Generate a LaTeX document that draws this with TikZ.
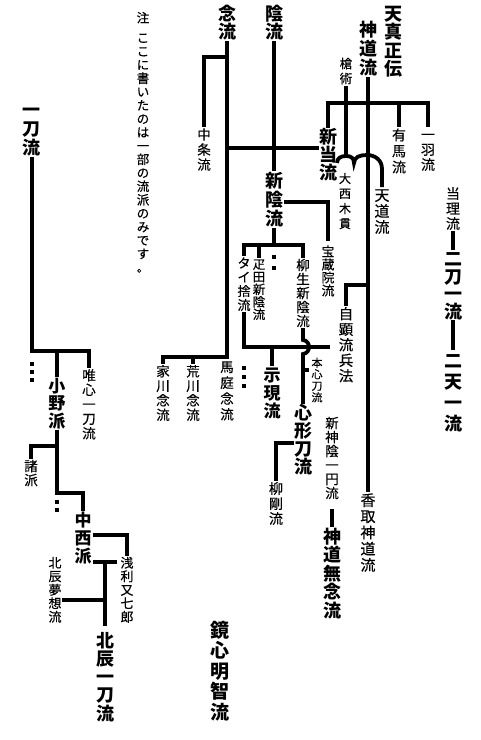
\documentclass[tikz,border=0pt]{standalone}
\usepackage{fontspec}
\newfontfamily\jp{Noto Sans CJK JP}
\newfontfamily\jpm[FakeBold=0.4]{Noto Sans CJK JP}
\makeatletter
\newcommand\vt[2]{%
  \vbox{\offinterlineskip
    \@tfor\vt@c:=#2\do{%
      \hbox to 1em{\hss\vrule height \dimexpr 0.38em+#1/2\relax depth \dimexpr #1/2-0.38em\relax width 0pt\relax\vt@c\hss}}}}
\makeatother
\tikzset{
  vcol/.style={inner sep=0pt, outer sep=0pt, anchor=north},
  vs/.style={vcol, font=\jpm\fontsize{#1}{#1}\selectfont},
  vb/.style={vcol, font=\jp\bfseries\fontsize{#1}{#1}\selectfont},
  ln/.style={line width=3.8pt, line join=miter, line cap=butt},
}
\begin{document}
\begin{tikzpicture}[x=1pt,y=-1pt]
\useasboundingbox (0,0) rectangle (480,740);
\fill[white] (0,0) rectangle (480,740);
% nodes
\node[vb=18] (nen) at (227,4) {\vt{18.5pt}{念流}};
\node[vb=18] (kage) at (274,4) {\vt{18.5pt}{陰流}};
\node[vb=18] (tenshin) at (393,4) {\vt{18.5pt}{天真正伝}};
\node[vb=18] (shinto) at (368,20) {\vt{19pt}{神道流}};
\node[vs=12.5] (sojutsu) at (346,56) {\vt{15pt}{槍術}};
\node[vb=18] (shintoryu) at (328,128) {\vt{18pt}{新当流}};
\node[vs=14] (arima) at (399,127) {\vt{16pt}{有馬流}};
\node[vs=14] (ichiu) at (428,127) {\vt{15pt}{一羽流}};
\node[vs=13.5] (chujo) at (204,127) {\vt{15pt}{中条流}};
\node[vs=12] (onishi) at (345,171) {\vt{15pt}{大西木貫}};
\node[vs=15] (tendo) at (382,187) {\vt{16pt}{天道流}};
\node[vs=14] (tori) at (453,186) {\vt{15pt}{当理流}};
\node[vb=18] (nito) at (453,250) {\vt{17.5pt}{二刀一流}};
\node[vb=18] (niten) at (453,350) {\vt{21pt}{二天一流}};
\node[vb=18] (shinkage) at (274,171) {\vt{19pt}{新陰流}};
\node[vs=13] (hozoin) at (328,245) {\vt{13pt}{宝蔵院流}};
\node[vs=13] (taisha) at (244,256) {\vt{14pt}{タイ捨流}};
\node[vs=12.5] (hikita) at (259,258) {\vt{12.5pt}{疋田新陰流}};
\node[vs=13.5] (yagyu) at (303,258) {\vt{14pt}{柳生新陰流}};
\node[vs=14.5] (jiken) at (346,306) {\vt{15.5pt}{自顕流兵法}};
\node[vs=13.5] (iekawa) at (163,364) {\vt{14.5pt}{家川念流}};
\node[vs=13.5] (arakawa) at (193,364) {\vt{14.5pt}{荒川念流}};
\node[vs=13.5] (maniwa) at (227,359) {\vt{15.8pt}{馬庭念流}};
\node[vb=17] (jigen) at (272,366) {\vt{18pt}{示現流}};
\node[vs=11] (honshin) at (317,357) {\vt{11.5pt}{本心刀流}};
\node[vb=18] (shinkei) at (303,404) {\vt{18pt}{心形刀流}};
\node[vs=14] (ryugo) at (276,481) {\vt{15pt}{柳剛流}};
\node[vs=13.5] (shinshin) at (332,416) {\vt{14pt}{新神陰一円流}};
\node[vb=18] (munen) at (332,527) {\vt{18.6pt}{神道無念流}};
\node[vs=15] (katori) at (368,492) {\vt{16.2pt}{香取神道流}};
\node[vb=18] (itto) at (32,100) {\vt{19pt}{一刀流}};
\node[vb=17] (ono) at (57,377) {\vt{17.5pt}{小野派}};
\node[vs=13.5] (yuishin) at (89,368) {\vt{14.5pt}{唯心一刀流}};
\node[vs=13.5] (shoha) at (31,459) {\vt{14pt}{諸派}};
\node[vb=17] (nakanishi) at (83,511) {\vt{18pt}{中西派}};
\node[vs=13] (asari) at (127,556) {\vt{13.5pt}{浅利又七郎}};
\node[vs=13] (muso) at (55,556) {\vt{13.5pt}{北辰夢想流}};
\node[vb=18] (hokushin) at (105,631) {\vt{18.3pt}{北辰一刀流}};
\node[vb=19] (kyoshin) at (220,620) {\vt{20.5pt}{鏡心明智流}};
\node[vs=12.5] (note1) at (143,11) {\vt{13.5pt}{注}};
\node[vs=12.5] (note2) at (143,31) {\vt{13.5pt}{ここに書いたのは一部の流派のみです。}};
% connectors
\draw[ln] (nen.south) -- (227,357) -- (163,357) -- (iekawa.north);
\draw[ln] (193,357) -- (arakawa.north);
\draw[ln] (227,57) -| (chujo.north);
\draw[ln] (227,148) -- (319,148);
\draw[ln] (kage.south) -- (shinkage.north);
\draw[ln] (shinkage.south) -- (274,245);
\draw[ln] (taisha.north) -- (244,245) -- (303,245) -- (yagyu.north);
\draw[ln] (259,245) -- (hikita.north);
\draw[ln] (284,202) -| (328,241);
\draw[ln] (shinto.south) -- (katori.north);
\draw[ln] (shintoryu.north) -- (328,103) -- (428,103) -- (ichiu.north);
\draw[ln] (399,103) -- (arima.north);
\draw[ln] (sojutsu.south) -- (346,156);
\draw[ln] (337,163) .. controls (337,158) and (341,156) .. (346,156) .. controls (351,156) and (354,158) .. (354,163) .. controls (354,157) and (360,155) .. (367,155) .. controls (375,155) and (382,160) .. (382,169) -- (tendo.north);
\draw[ln] (368,285) -| (jiken.north);
\draw[ln] (taisha.south) -- (244,347) -- (330,347);
\draw[ln] (272,347) -- (jigen.north);
\draw[ln] (yagyu.south) -- (303,340) .. controls (311,341) and (311,353) .. (303,354) -- (shinkei.north);
\draw[ln] (303,370) -- (309,370);
\draw[ln] (294,443) -| (ryugo.north);
\draw[ln, shorten <=9pt] (shinshin.south) -- (munen.north);
\draw[ln] (tori.south) -- (nito.north);
\draw[ln] (nito.south) -- (niten.north);
\draw[ln] (itto.south) -- (32,351) -- (89,351) -- (yuishin.north);
\draw[ln] (57,351) -- (ono.north);
\draw[ln] (ono.south) -- (57,493) -| (nakanishi.north);
\draw[ln] (57,446) -| (shoha.north);
\draw[ln] (93,535) -| (asari.north);
\draw[ln] (93,562) -- (117,562);
\draw[ln] (105,562) -- (105,626);
\draw[ln] (105,600) -- (62,600);
% dots
\foreach \y in {362,370,378} \fill (30.2,\y) rectangle ++(3.6,3.6);
\foreach \y in {500,508} \fill (55.2,\y) rectangle ++(3.6,3.6);
\foreach \y in {366,375,384} \fill (242.2,\y) rectangle ++(3.6,3.6);
\foreach \y in {255,266} \fill (272.2,\y) rectangle ++(3.6,3.6);
\end{tikzpicture}
\end{document}
